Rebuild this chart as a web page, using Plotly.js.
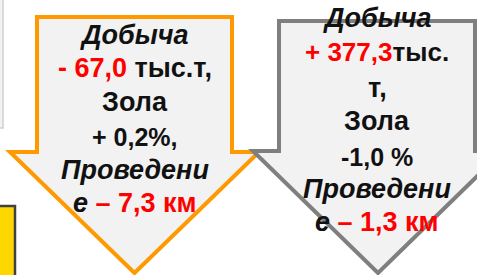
<!DOCTYPE html>
<html><head><meta charset="utf-8">
<script src="https://cdn.plot.ly/plotly-3.0.1.min.js"></script>
<style>html,body{margin:0;padding:0;background:#fff}#c{width:477px;height:275px}</style>
</head><body><div id="c"></div>
<script>
// Text content of each arrow, line by line
const leftLines = [
  '<b><i>Добыча</i></b>',
  '<b><span style="color:#FF0000">- 67,0</span> тыс.т,</b>',
  '<b>Зола</b>',
  '<b>+ 0,2%,</b>',
  '<b><i>Проведени</i></b>',
  '<b><i>е</i> <span style="color:#FF0000">– 7,3 км</span></b>'
];
const leftY = [35, 68, 102, 137, 170, 203];
const leftSize = [27, 27, 27, 25, 27, 27];
const rightLines = [
  '<b><i>Добыча</i></b>',
  '<b><span style="color:#FF0000">+ 377,3</span>тыс.</b>',
  '<b>т,</b>',
  '<b>Зола</b>',
  '<b>-1,0 %</b>',
  '<b><i>Проведени</i></b>',
  '<b><i>е</i> <span style="color:#FF0000">– 1,3 км</span></b>'
];
const rightY = [18, 52, 88, 121, 157, 189, 222];
const rightSize = [27, 26, 27, 27, 25, 27, 27];
// Arrow geometry: [shaftLeft, shaftRight, top, shaftBottom, headLeft, headRight, tipY]
const leftArrow = [37, 232, 17, 152, 10, 259, 273];
const rightArrow = [279, 475, 21, 151, 253, 503, 273];
const leftCenter = 134.5, rightCenter = 377;

function arrowPath(a) {
  const [sl, sr, t, sb, hl, hr, ty] = a;
  const cx = (hl + hr) / 2;
  return `M${sl},${t} L${sr},${t} L${sr},${sb} L${hr},${sb} L${cx},${ty} L${hl},${sb} L${sl},${sb} Z`;
}

const shapes = [
  {type:'rect', xref:'x', yref:'y', x0:-5, x1:3, y0:-5, y1:128, fillcolor:'#F2F2F2', line:{color:'#D0D0D0', width:1.5}},
  {type:'rect', xref:'x', yref:'y', x0:-5, x1:15, y0:206, y1:285, fillcolor:'#FFD700', line:{color:'#404040', width:2.5}},
  {type:'path', xref:'x', yref:'y', path: arrowPath(leftArrow), fillcolor:'#F2F2F2', line:{color:'#FF9900', width:4}},
  {type:'path', xref:'x', yref:'y', path: arrowPath(rightArrow), fillcolor:'#F2F2F2', line:{color:'#7F7F7F', width:4}}
];

const fam = 'Liberation Sans, Arial, sans-serif';
const annotations = [];
leftLines.forEach((t, i) => annotations.push({x:leftCenter, y:leftY[i], xref:'x', yref:'y', text:t, showarrow:false, font:{family:fam, size:leftSize[i], color:'#111'}, xanchor:'center', yanchor:'middle'}));
rightLines.forEach((t, i) => annotations.push({x:rightCenter, y:rightY[i], xref:'x', yref:'y', text:t, showarrow:false, font:{family:fam, size:rightSize[i], color:'#111'}, xanchor:'center', yanchor:'middle'}));

Plotly.newPlot('c', [], {
  width:477, height:275,
  margin:{l:0, r:0, t:0, b:0},
  paper_bgcolor:'#fff', plot_bgcolor:'#fff',
  xaxis:{range:[0,477], visible:false, fixedrange:true},
  yaxis:{range:[275,0], visible:false, fixedrange:true},
  shapes:shapes, annotations:annotations, showlegend:false
}, {displayModeBar:false, staticPlot:true});
</script></body></html>
